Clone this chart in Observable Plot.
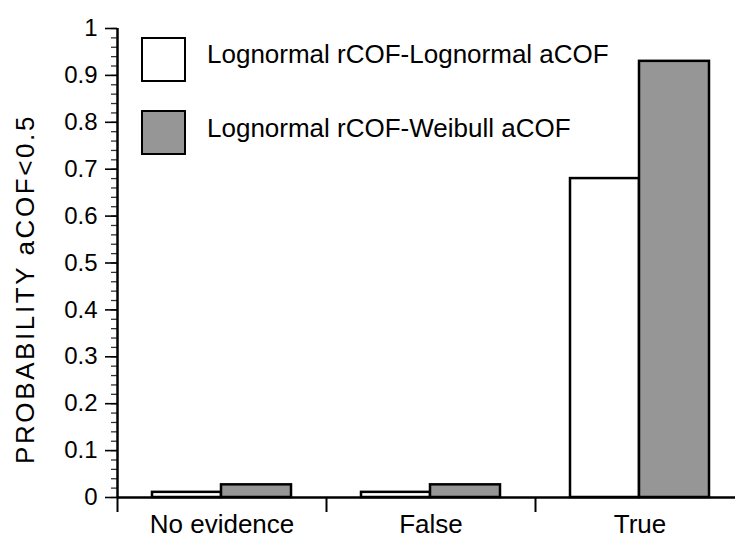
<!DOCTYPE html>
<html><head><meta charset="utf-8">
<script src="https://cdn.jsdelivr.net/npm/d3@7"></script>
<script src="https://cdn.jsdelivr.net/npm/@observablehq/plot@0.6"></script>
<style>
body{margin:0;background:#fff;font-family:"Liberation Sans",Arial,sans-serif;}
#wrap{position:relative;width:735px;height:538px;overflow:hidden;}
.sw{position:absolute;left:141px;width:41px;height:41px;border:2.5px solid #000;}
.lt{position:absolute;left:207px;font-size:26px;line-height:26px;white-space:nowrap;color:#000;}
</style></head>
<body><div id="wrap"></div>
<script>
const categories = ["No evidence", "False", "True"];
const seriesNames = ["Lognormal rCOF-Lognormal aCOF", "Lognormal rCOF-Weibull aCOF"];
const lognormalValues = [0.011, 0.011, 0.68];
const weibullValues = [0.027, 0.027, 0.93];
const yTicks = [0, 0.1, 0.2, 0.3, 0.4, 0.5, 0.6, 0.7, 0.8, 0.9, 1];
const yMinorTicks = d3.range(0, 51).map(i => i / 50);
const yLabel = "PROBABILITY aCOF<0.5";
const seriesColors = ["#ffffff", "#969696"];

const rowsA = categories.map((c, i) => ({category: c, value: lognormalValues[i]}));
const rowsB = categories.map((c, i) => ({category: c, value: weibullValues[i]}));

const chart = Plot.plot({
  width: 735, height: 538,
  marginLeft: 117, marginRight: 0, marginTop: 28, marginBottom: 41,
  style: {fontFamily: '"Liberation Sans", Arial, sans-serif', color: "#000", background: "transparent"},
  x: {domain: categories, range: [117, 744], padding: 0, axis: null},
  y: {domain: [0, 1], axis: null},
  marks: [
    Plot.barY(rowsA, {x: "category", y: "value", fill: seriesColors[0], stroke: "#000", strokeWidth: 2.5, insetLeft: 35, insetRight: 105}),
    Plot.barY(rowsB, {x: "category", y: "value", fill: seriesColors[1], stroke: "#000", strokeWidth: 2.5, insetLeft: 104, insetRight: 35}),
    Plot.axisY({ticks: yMinorTicks, tickSize: 6, tickFormat: () => "", label: null, stroke: "#333", strokeWidth: 1.3}),
    Plot.axisY({ticks: yTicks, tickSize: 12, tickPadding: 8, fontSize: 24, label: null, strokeWidth: 1.6, tickFormat: d => String(+d.toFixed(1))}),
    Plot.ruleX([categories[0]], {x: d => d, dx: -104.5, y1: 0, y2: 1, stroke: "#000", strokeWidth: 2.5}),
    Plot.axisX({tickSize: 15, dx: -104.5, strokeWidth: 2, tickFormat: () => "", label: null}),
    Plot.axisX({tickSize: 0, tickPadding: 17, fontSize: 26, label: null}),
    Plot.ruleY([0], {stroke: "#000", strokeWidth: 2.5}),
    Plot.text([yLabel], {frameAnchor: "left", textAnchor: "middle", text: d => d, rotate: -90, dx: -92, dy: 26, fontSize: 26, fill: "#000"})
  ]
});
const wrap = document.getElementById("wrap");
wrap.appendChild(chart);
chart.querySelectorAll("text").forEach(t => {
  if (t.textContent === yLabel) { t.setAttribute("letter-spacing", "2.6"); t.style.letterSpacing = "2.6px"; }
});
const tops = [37, 110], textTops = [41, 115];
seriesNames.forEach((name, i) => {
  const sw = document.createElement("div");
  sw.className = "sw"; sw.style.top = tops[i] + "px"; sw.style.background = seriesColors[i];
  wrap.appendChild(sw);
  const t = document.createElement("div");
  t.className = "lt"; t.style.top = textTops[i] + "px"; t.textContent = name;
  wrap.appendChild(t);
});
</script></body></html>
